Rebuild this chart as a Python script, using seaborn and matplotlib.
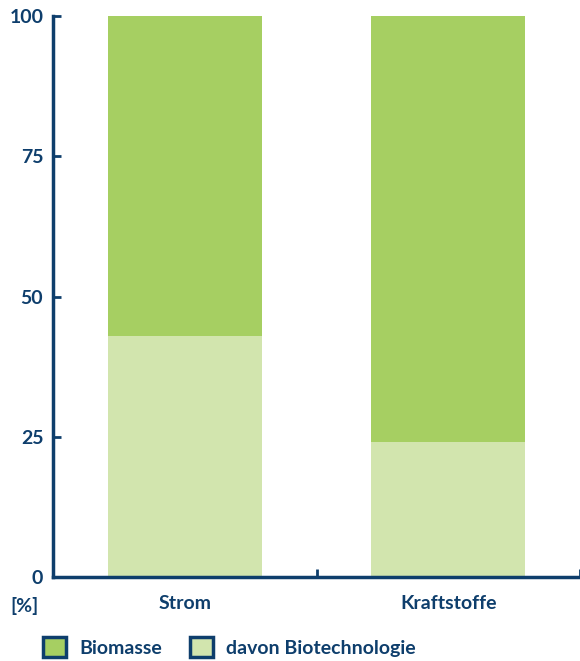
import matplotlib
matplotlib.use("Agg")
import matplotlib.pyplot as plt
import seaborn as sns
import pandas as pd
from matplotlib.patches import Patch

# Share of total energy use (percent)
categories = ["Strom", "Kraftstoffe"]
biomasse = [100, 100]
biotechnologie = [43, 24]
y_ticks = [0, 25, 50, 75, 100]
legend_labels = ["Biomasse", "davon Biotechnologie"]

NAVY = "#0e3e6c"
GREEN = "#a6cf62"
LIGHT = "#d2e5ae"
FS = 14

sns.set_theme(style="white")
plt.rcParams["font.family"] = ["Lato", "DejaVu Sans"]
plt.rcParams["font.weight"] = "bold"

df = pd.DataFrame({"Kategorie": categories,
                   "Biomasse": biomasse,
                   "Biotechnologie": biotechnologie})

fig = plt.figure(figsize=(5.8, 6.61), dpi=100)
ax = fig.add_axes([53 / 580, 84 / 661, 527 / 580, 561 / 661])

sns.barplot(data=df, x="Kategorie", y="Biomasse", color=GREEN,
            width=0.585, saturation=1, linewidth=0, ax=ax)
sns.barplot(data=df, x="Kategorie", y="Biotechnologie", color=LIGHT,
            width=0.585, saturation=1, linewidth=0, ax=ax)

ax.set_xlim(-0.5, 1.5)
ax.set_ylim(0, 100)
ax.set_xlabel("")
ax.set_ylabel("")
ax.set_yticks(y_ticks)
ax.set_yticklabels([str(t) for t in y_ticks], color=NAVY, fontsize=FS,
                   fontweight="bold")
ax.set_xticks([0, 1])
ax.set_xticklabels(categories, color=NAVY, fontsize=FS, fontweight="bold")
ax.set_xticks([0.5, 1.5], minor=True)

for side in ["top", "right"]:
    ax.spines[side].set_visible(False)
for side in ["left", "bottom"]:
    ax.spines[side].set_color(NAVY)
    ax.spines[side].set_linewidth(2.5)

ax.tick_params(axis="y", direction="in", length=6, width=2, color=NAVY,
               left=True, pad=7)
ax.tick_params(axis="x", which="major", length=0, pad=13)
ax.tick_params(axis="x", which="minor", direction="in", length=6, width=2,
               color=NAVY, bottom=True)

fig.text(10 / 580, 1 - 606 / 661, "[%]", color=NAVY, fontsize=FS,
         fontweight="bold", va="center", ha="left")

handles = [Patch(facecolor=GREEN, edgecolor=NAVY, linewidth=2.5),
           Patch(facecolor=LIGHT, edgecolor=NAVY, linewidth=2.5)]
leg = fig.legend(handles, legend_labels, loc="lower left",
                 bbox_to_anchor=(43 / 580, 4 / 661), ncol=2, frameon=False,
                 borderpad=0, borderaxespad=0,
                 handlelength=1.2, handleheight=1.2, columnspacing=1.45,
                 handletextpad=0.65, prop={"size": FS, "weight": "bold"})
for t in leg.get_texts():
    t.set_color(NAVY)

fig.savefig("out.png", dpi=100)
